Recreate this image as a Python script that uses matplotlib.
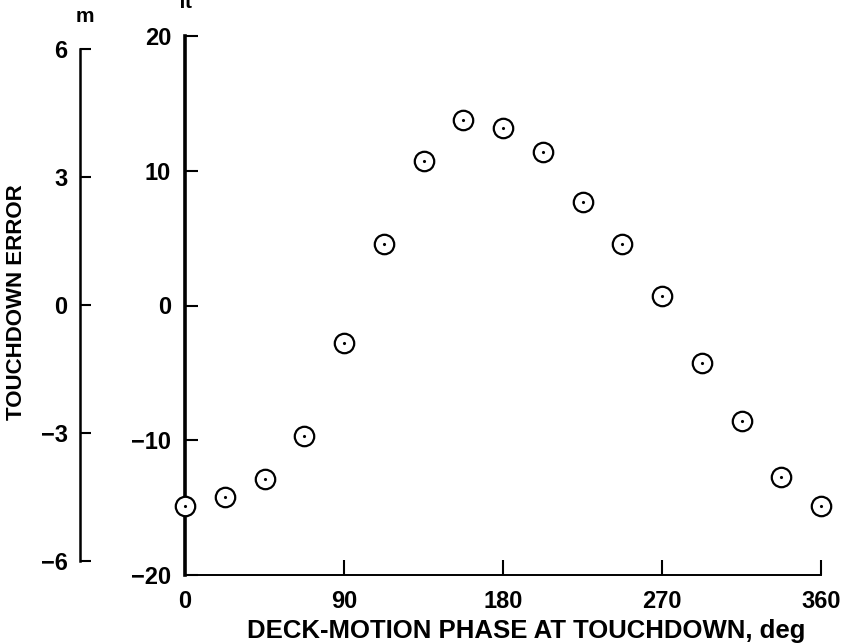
import matplotlib
matplotlib.use('Agg')
import matplotlib.pyplot as plt
import numpy as np

plt.rcParams['font.family'] = ['Liberation Sans', 'DejaVu Sans']
plt.rcParams['font.weight'] = 'bold'
plt.rcParams['axes.labelweight'] = 'bold'

# deck-motion phase at touchdown, deg
phase = [0, 22.5, 45, 67.5, 90, 112.5, 135, 157.5, 180,
         202.5, 225, 247.5, 270, 292.5, 315, 337.5, 360]
# touchdown error, ft
error_ft = [-14.9, -14.2, -12.9, -9.7, -2.8, 4.6, 10.7, 13.8, 13.2,
            11.4, 7.7, 4.6, 0.7, -4.3, -8.6, -12.7, -14.9]

x_ticks = [0, 90, 180, 270, 360]
ft_ticks = [-20, -10, 0, 10, 20]
m_ticks = [-6, -3, 0, 3, 6]

W, H = 842, 643
fig = plt.figure(figsize=(W / 100, H / 100), dpi=100)

def frac(x0, y0, x1, y1):
    return [x0 / W, 1 - y1 / H, (x1 - x0) / W, (y1 - y0) / H]

ax = fig.add_axes(frac(185, 36, 821, 575))
ax.set_xlim(0, 360)
ax.set_ylim(-20, 20)
for s in ['top', 'right']:
    ax.spines[s].set_visible(False)
ax.spines['left'].set_linewidth(2.6)
ax.spines['bottom'].set_linewidth(1.4)
ax.set_xticks(x_ticks)
ax.set_yticks(ft_ticks)
ax.tick_params(axis='both', direction='in', width=1.5, labelsize=17)
ax.tick_params(axis='y', length=9, pad=10)
ax.tick_params(axis='x', length=11, pad=11)

ax.plot(phase, error_ft, linestyle='none', marker='o', markersize=14,
        markerfacecolor='white', markeredgecolor='black',
        markeredgewidth=1.6, clip_on=False, zorder=5)
ax.plot(phase, error_ft, linestyle='none', marker='.', markersize=2.5,
        color='black', clip_on=False, zorder=6)

ax.set_xlabel('DECK-MOTION PHASE AT TOUCHDOWN, deg', fontsize=18.5)
ax.xaxis.set_label_coords(0.536, -0.081)

# metric scale
axm = fig.add_axes(frac(80, 49, 82, 561))
axm.set_ylim(-6, 6)
axm.set_xticks([])
axm.set_yticks(m_ticks)
for s in ['top', 'right', 'bottom']:
    axm.spines[s].set_visible(False)
axm.spines['left'].set_linewidth(1.8)
axm.patch.set_visible(False)
axm.tick_params(axis='y', direction='in', length=8, width=1.5,
                labelsize=17, pad=9)

fig.text(85 / W, 1 - 16 / H, 'm', fontsize=15, ha='center', va='center')
fig.text(186 / W, 1 - 3 / H, 'ft', fontsize=15, ha='center', va='center')
fig.text(17 / W, 1 - 302 / H, 'TOUCHDOWN ERROR', fontsize=16,
         rotation=90, ha='center', va='center')

fig.savefig('out.png', dpi=100)
